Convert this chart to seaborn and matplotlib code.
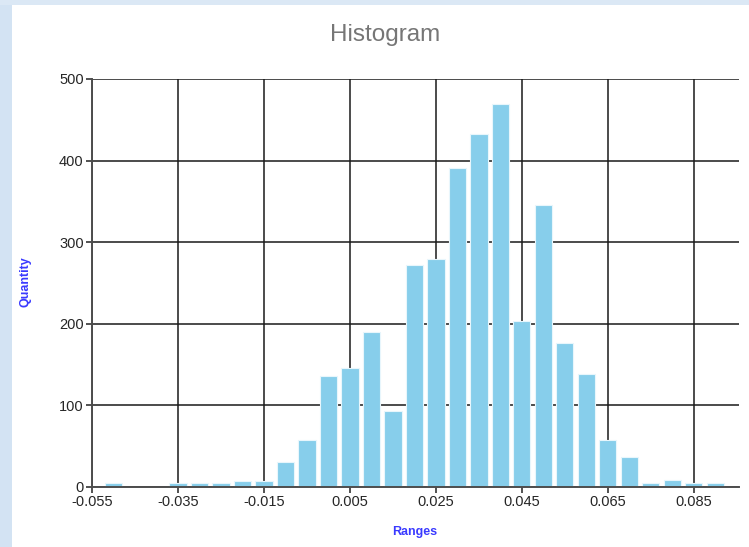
import matplotlib
matplotlib.use("Agg")
import matplotlib.pyplot as plt
from matplotlib.patches import Rectangle
import seaborn as sns

# ==========================================
# DATA
# ==========================================
bin_centers = [-0.050, -0.035, -0.030, -0.025, -0.020, -0.015, -0.010, -0.005,
               0.000, 0.005, 0.010, 0.015, 0.020, 0.025, 0.030, 0.035,
               0.040, 0.045, 0.050, 0.055, 0.060, 0.065, 0.070, 0.075,
               0.080, 0.085, 0.090]
counts = [5, 5, 5, 5, 7, 7, 31, 57,
          136, 146, 190, 93, 272, 280, 391, 433,
          469, 203, 345, 177, 139, 57, 37, 5,
          9, 5, 5]
x_ticks = [-0.055, -0.035, -0.015, 0.005, 0.025, 0.045, 0.065, 0.085]
x_tick_labels = ["-0.055", "-0.035", "-0.015", "0.005", "0.025", "0.045", "0.065", "0.085"]
y_ticks = [0, 100, 200, 300, 400, 500]

TITLE = "Histogram"
X_LABEL = "Ranges"
Y_LABEL = "Quantity"

# ==========================================
# STYLE
# ==========================================
sns.set_theme(style="white")
plt.rcParams['font.family'] = ['Liberation Sans', 'DejaVu Sans']

W, H = 749, 547
fig = plt.figure(figsize=(W / 100, H / 100), dpi=100)
fig.patch.set_facecolor("white")

# bingkai biru muda di kiri dan atas
fig.patches.append(Rectangle((0, 0), 12 / W, 1, transform=fig.transFigure,
                             facecolor="#d3e3f3", edgecolor="none", zorder=0))
fig.patches.append(Rectangle((0, 1 - 5 / H), 1, 5 / H, transform=fig.transFigure,
                             facecolor="#dbe8f5", edgecolor="none", zorder=0))

ax = fig.add_axes([92 / W, 1 - 487 / H, (739 - 92) / W, (487 - 79) / H])
ax.set_facecolor("white")

sns.barplot(x=bin_centers, y=counts, native_scale=True, color="#87ceeb",
            edgecolor="#e8f6fc", linewidth=0.8, width=0.8, ax=ax, zorder=3,
            saturation=1)

ax.set_xlim(-0.055, 0.0955)
ax.set_ylim(0, 500)
ax.set_xticks(x_ticks)
ax.set_xticklabels(x_tick_labels)
ax.set_yticks(y_ticks)

ax.grid(True, color="#1a1a1a", linewidth=1.1, zorder=0)
ax.set_axisbelow(True)

for side in ["top", "right"]:
    ax.spines[side].set_visible(False)
for side in ["left", "bottom"]:
    ax.spines[side].set_color("#4d4d4d")
    ax.spines[side].set_linewidth(1.4)
    ax.spines[side].set_zorder(4)

ax.tick_params(axis="both", which="major", direction="out", length=4,
               width=1.2, color="#333333", labelsize=10.5,
               labelcolor="#262626", pad=2, bottom=True, left=True)

ax.set_xlabel("")
ax.set_ylabel("")

fig.text(385 / W, 1 - 35 / H, TITLE, ha="center", va="center",
         fontsize=17.5, color="#767676")
fig.text(415 / W, 1 - 532 / H, X_LABEL, ha="center", va="center",
         fontsize=9, color="#3a3aff", fontweight="semibold")
fig.text(25 / W, 1 - 282 / H, Y_LABEL, ha="center", va="center",
         fontsize=9, color="#3a3aff", rotation=90, fontweight="semibold")

fig.savefig("out.png", dpi=100)
